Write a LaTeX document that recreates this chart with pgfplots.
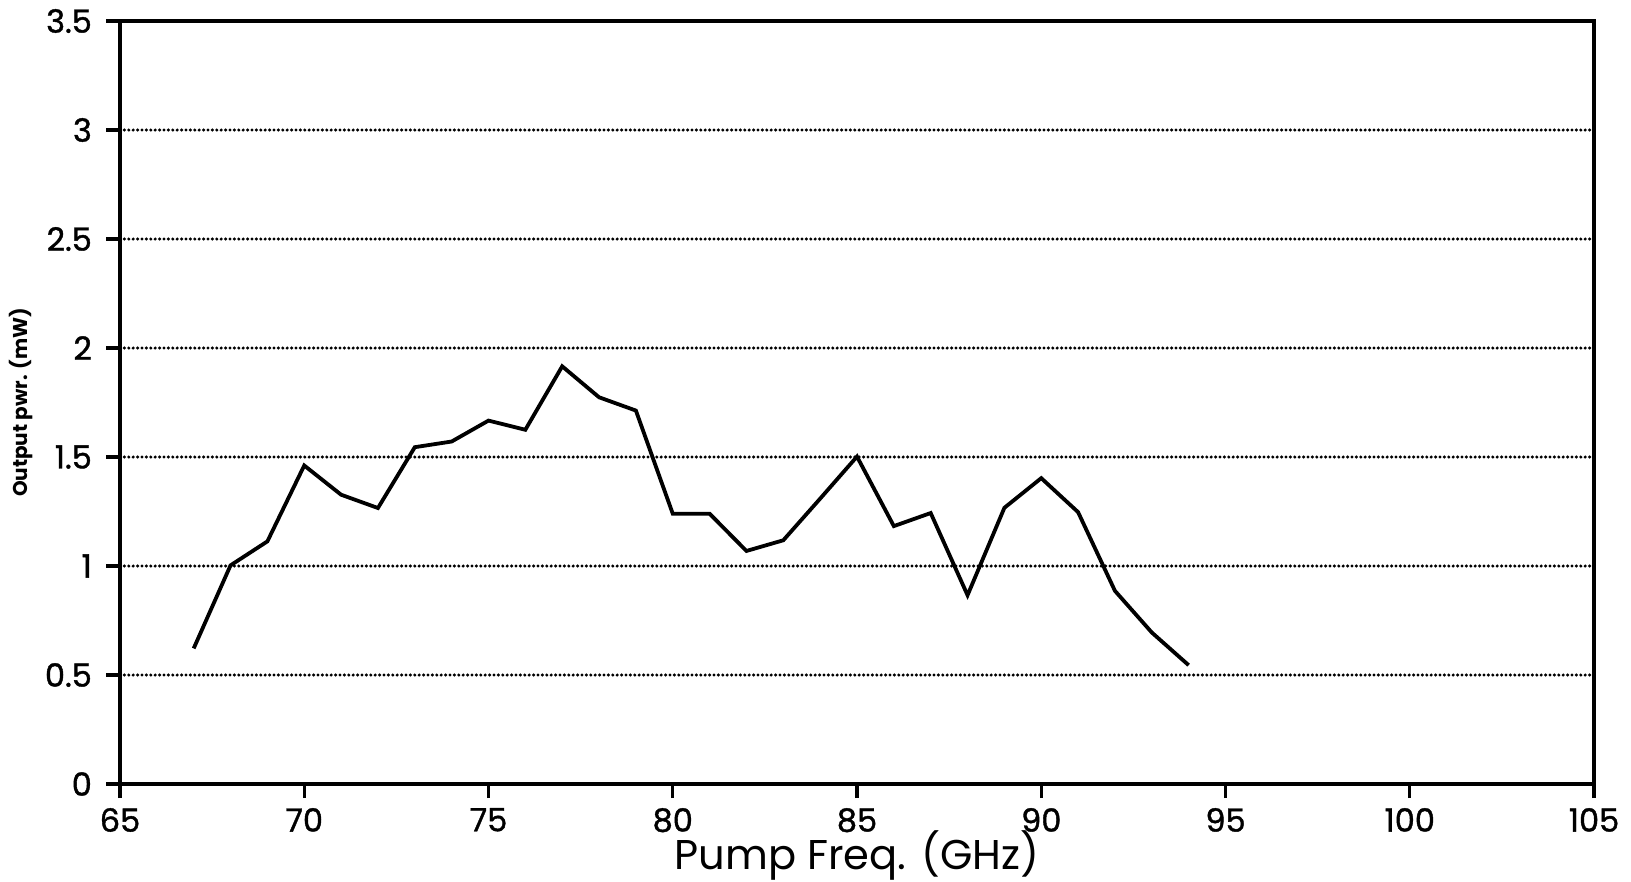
\documentclass[border=0pt]{standalone}
\usepackage{pgfplots}
\pgfplotsset{compat=1.18}
\usepackage{fontspec}
\setmainfont{Poppins}
\newfontfamily\tickfont{Poppins}[FakeBold=1.2]
\begin{document}
\begin{tikzpicture}
\begin{axis}[
  at={(0,0)}, anchor=south west,
  scale only axis,
  width=368.5pt, height=190.75pt,
  xmin=65, xmax=105, ymin=0, ymax=3.5,
  xtick={65,70,...,105},
  ytick={0,0.5,...,3.5},
  yticklabels={0,0.5,1,1.5,2,2.5,3,3.5},
  axis line style={line width=0.8pt},
  tick style={line width=0.8pt, black},
  tick align=outside,
  xtick pos=bottom, ytick pos=left,
  major tick length=3.5pt,
  ymajorgrids,
  grid style={line width=0.85pt, line cap=round, dash pattern=on 0pt off 1.1pt, black},
  /pgf/number format/assume math mode=true,
  ticklabel style={font=\tickfont\fontsize{8}{8}\selectfont},
  yticklabel style={xshift=0pt},
  xticklabel style={yshift=1pt},
  xlabel={Pump Freq. (GHz)},
  xlabel style={font=\fontsize{10.4}{11}\selectfont, yshift=7.3pt},
  ylabel={Output pwr. (mW)},
  ylabel style={font=\fontsize{5}{5}\selectfont\bfseries, yshift=-3.8pt},
  clip=false,
]
\addplot[black, line width=0.95pt, line join=miter] coordinates {
(67,0.622) (68,1.003) (69,1.113) (70,1.461) (71,1.327) (72,1.266)
(73,1.545) (74,1.571) (75,1.667) (76,1.625) (77,1.916) (78,1.774)
(79,1.713) (80,1.240) (81,1.240) (82,1.069) (83,1.118) (84,1.309)
(85,1.502) (86,1.183) (87,1.243) (88,0.866) (89,1.267) (90,1.403)
(91,1.247) (92,0.886) (93,0.695) (94,0.545)
};
\end{axis}
\pgfresetboundingbox
\path (-30pt,-24.25pt) rectangle (377.75pt,196pt);
\end{tikzpicture}
\end{document}
